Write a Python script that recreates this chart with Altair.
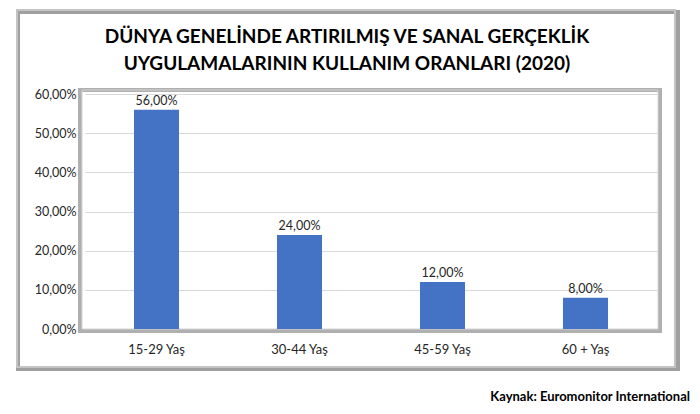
import altair as alt
import pandas as pd

categories = ["15-29 Yaş", "30-44 Yaş", "45-59 Yaş", "60 + Yaş"]
values = [0.56, 0.24, 0.12, 0.08]
y_ticks = [0, 0.1, 0.2, 0.3, 0.4, 0.5, 0.6]
title_lines = ["DÜNYA GENELİNDE ARTIRILMIŞ VE SANAL GERÇEKLİK",
               "UYGULAMALARININ KULLANIM ORANLARI (2020)"]
source_text = "Kaynak: Euromonitor International"

FONT = "Lato"
df = pd.DataFrame({"cat": categories, "val": values})

x_enc = alt.X("cat:N", sort=categories, title=None,
              scale=alt.Scale(paddingInner=0.685, paddingOuter=0.3425),
              axis=alt.Axis(labelAngle=0, labelFontSize=13, labelColor="#262626",
                            labelFont=FONT, ticks=False, domain=False, labelPadding=14))
y_enc = alt.Y("val:Q", title=None,
              scale=alt.Scale(domain=[0, 0.6], nice=False),
              axis=alt.Axis(values=y_ticks, tickCount=7,
                            labelExpr="replace(format(datum.value, '.2%'), '.', ',')",
                            labelFontSize=12.5, labelColor="#262626", labelFont=FONT,
                            labelOverlap=False, labelBound=False,
                            ticks=False, domain=False, labelPadding=9,
                            gridColor="#d9d9d9", gridWidth=1))

base = alt.Chart(df)

bars = base.mark_bar(color="#4472C4").encode(x=x_enc, y=y_enc)
labels = base.transform_calculate(
    lab="replace(format(datum.val, '.2%'), '.', ',')"
).mark_text(baseline="bottom", dy=-2, fontSize=12.5, font=FONT, color="#262626").encode(
    x=x_enc, y=y_enc, text="lab:N")

# decorative frames
deco = alt.Chart(pd.DataFrame({"a": [0]}))
outer_shadow = deco.mark_rect(fill=None, stroke="#a0a0a0", strokeWidth=4).encode(
    x=alt.value(-67), x2=alt.value(593), y=alt.value(-82), y2=alt.value(275))
outer = deco.mark_rect(fill=None, stroke="#c4c4c4", strokeWidth=2).encode(
    x=alt.value(-68), x2=alt.value(590), y=alt.value(-84), y2=alt.value(273))
plot_shadow = deco.mark_rect(fill=None, stroke="#b0b0b0", strokeWidth=4).encode(
    x=alt.value(-5), x2=alt.value(575), y=alt.value(-4), y2=alt.value(237))
plot_border = deco.mark_rect(fill=None, stroke="#d4d4d4", strokeWidth=1).encode(
    x=alt.value(-3), x2=alt.value(573), y=alt.value(-4), y2=alt.value(235))

title1 = alt.Chart(pd.DataFrame({"t": [title_lines[0]]})).mark_text(
    align="center", baseline="alphabetic", fontSize=19, font=FONT,
    fontWeight="bold", color="#000000").encode(x=alt.value(262), y=alt.value(-51), text="t:N")
title2 = alt.Chart(pd.DataFrame({"t": [title_lines[1]]})).mark_text(
    align="center", baseline="alphabetic", fontSize=19, font=FONT,
    fontWeight="bold", color="#000000").encode(x=alt.value(262), y=alt.value(-24), text="t:N")

source = alt.Chart(pd.DataFrame({"t": [source_text]})).mark_text(
    align="right", baseline="middle", fontSize=13, font=FONT, fontWeight="bold",
    color="#000000").encode(x=alt.value(605), y=alt.value(303), text="t:N")

chart = alt.layer(outer_shadow, outer, plot_shadow, plot_border, bars, labels,
                  title1, title2, source).properties(
    width=572, height=235,
    autosize=alt.AutoSizeParams(type="none"),
    padding={"left": 77, "top": 86, "right": 35, "bottom": 77},
).configure_view(stroke=None)

chart.save("out.html", embed_options={"renderer": "svg", "actions": False})
